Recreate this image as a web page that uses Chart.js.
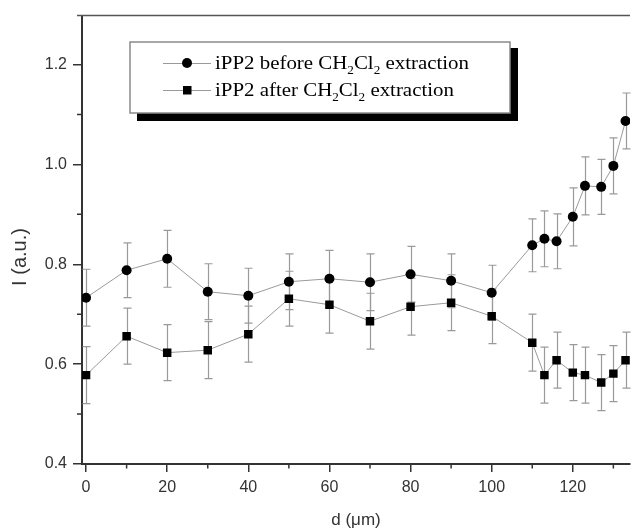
<!doctype html>
<html lang="en">
<head>
  <meta charset="utf-8">
  <title>iPP2 intensity profile</title>
  <script src="https://cdn.jsdelivr.net/npm/chart.js@4/dist/chart.umd.min.js"></script>
  <style>
    body { margin: 0; background: #fff; }
    .grafico { position: relative; width: 636px; height: 530px; }
  </style>
</head>
<body>
<div class="grafico">
  <canvas id="myChart"></canvas>
</div>

<script>
// distance from the surface (um)
var dist = [0, 10, 20, 30, 40, 50, 60, 70, 80, 90, 100, 110, 113, 116, 120, 123, 127, 130, 133];
var before = [0.733, 0.788, 0.811, 0.745, 0.737, 0.765, 0.771, 0.764, 0.780, 0.767, 0.743, 0.838, 0.851, 0.846, 0.895, 0.957, 0.955, 0.997, 1.087];
var beforeErr = [0.057, 0.055, 0.057, 0.056, 0.055, 0.056, 0.057, 0.057, 0.056, 0.054, 0.055, 0.053, 0.056, 0.055, 0.058, 0.058, 0.055, 0.056, 0.056];
var after = [0.578, 0.656, 0.623, 0.628, 0.660, 0.731, 0.719, 0.686, 0.715, 0.723, 0.696, 0.643, 0.578, 0.608, 0.583, 0.578, 0.563, 0.581, 0.608];
var afterErr = [0.057, 0.056, 0.056, 0.057, 0.056, 0.055, 0.057, 0.056, 0.057, 0.056, 0.055, 0.057, 0.056, 0.056, 0.056, 0.056, 0.056, 0.056, 0.056];

var xTicks = [0, 20, 40, 60, 80, 100, 120];
var xMinor = [10, 30, 50, 70, 90, 110, 130];
var yTicks = [0.4, 0.6, 0.8, 1.0, 1.2];
var yMinor = [0.5, 0.7, 0.9, 1.1];

// legend text, pieces marked sub are drawn as subscripts
var legendRows = [
  [["iPP2 before CH"], ["2", "sub"], ["Cl"], ["2", "sub"], [" extraction"]],
  [["iPP2 after CH"], ["2", "sub"], ["Cl"], ["2", "sub"], [" extraction"]]
];
var xTitle = "d (\u03bcm)";
var yTitle = "I (a.u.)";
</script>

<script>
const toPoints = (ys) => dist.map((d, i) => ({x: d, y: ys[i]}));
const errs = [beforeErr, afterErr];
const sans = '"Liberation Sans", Arial, sans-serif';
const serif = '"Liberation Serif", "Times New Roman", serif';

const rowWidth = (ctx, row) => {
  let w = 0;
  row.forEach(piece => {
    ctx.font = (piece[1] === 'sub' ? '12px ' : '19px ') + serif;
    w += ctx.measureText(piece[0]).width;
  });
  return w;
};

const decor = {
  id: 'decor',
  beforeDatasetsDraw(chart) {
    const ctx = chart.ctx, xs = chart.scales.x, ys = chart.scales.y;
    ctx.save();
    ctx.strokeStyle = '#9a9a9a';
    ctx.lineWidth = 1.2;
    chart.data.datasets.forEach((ds, k) => {
      ds.data.forEach((p, i) => {
        const px = Math.round(xs.getPixelForValue(p.x)) + 0.5;
        const top = ys.getPixelForValue(p.y + errs[k][i]);
        const bot = ys.getPixelForValue(p.y - errs[k][i]);
        ctx.beginPath();
        ctx.moveTo(px, top); ctx.lineTo(px, bot);
        ctx.moveTo(px - 4, top); ctx.lineTo(px + 4, top);
        ctx.moveTo(px - 4, bot); ctx.lineTo(px + 4, bot);
        ctx.stroke();
      });
    });
    ctx.restore();
  },
  afterDraw(chart) {
    const ctx = chart.ctx, a = chart.chartArea;
    const xs = chart.scales.x, ys = chart.scales.y;
    ctx.save();
    // top frame line
    ctx.strokeStyle = '#555';
    ctx.lineWidth = 1.5;
    ctx.beginPath();
    ctx.moveTo(a.left - 5, a.top); ctx.lineTo(a.right, a.top);
    ctx.stroke();

    // minor ticks
    ctx.strokeStyle = '#333';
    ctx.lineWidth = 1.5;
    ctx.beginPath();
    xMinor.forEach(v => {
      const px = xs.getPixelForValue(v);
      ctx.moveTo(px, a.bottom); ctx.lineTo(px, a.bottom + 4.5);
    });
    yMinor.forEach(v => {
      const py = ys.getPixelForValue(v);
      ctx.moveTo(a.left, py); ctx.lineTo(a.left - 5, py);
    });
    ctx.stroke();

    // legend box with shadow
    ctx.fillStyle = '#000';
    ctx.fillRect(137, 48, 381, 73);
    ctx.fillStyle = '#fff';
    ctx.fillRect(130, 42, 380, 71);
    ctx.strokeStyle = '#8a8a8a';
    ctx.lineWidth = 1.5;
    ctx.strokeRect(130, 42, 380, 71);

    // the original legend font is wider than Times, stretch to its width
    const sx = 254 / rowWidth(ctx, legendRows[0]);
    const rowY = [63, 90];
    legendRows.forEach((row, r) => {
      const cy = rowY[r];
      ctx.strokeStyle = '#999';
      ctx.lineWidth = 1;
      ctx.beginPath();
      ctx.moveTo(163, cy + 0.5); ctx.lineTo(211, cy + 0.5);
      ctx.stroke();
      ctx.fillStyle = '#000';
      if (r === 0) {
        ctx.beginPath(); ctx.arc(187, cy, 5, 0, Math.PI * 2); ctx.fill();
      } else {
        ctx.fillRect(183, cy - 4, 8.5, 8.5);
      }
      ctx.save();
      ctx.translate(215, cy + 6);
      ctx.scale(sx, 1);
      ctx.textBaseline = 'alphabetic';
      ctx.textAlign = 'left';
      let tx = 0;
      row.forEach(piece => {
        const sub = piece[1] === 'sub';
        ctx.font = (sub ? '12px ' : '19px ') + serif;
        ctx.fillText(piece[0], tx, sub ? 5 : 0);
        tx += ctx.measureText(piece[0]).width;
      });
      ctx.restore();
    });

    // axis titles
    ctx.fillStyle = '#333';
    ctx.textAlign = 'center';
    ctx.textBaseline = 'alphabetic';
    ctx.font = '17px ' + sans;
    ctx.fillText(xTitle, 356, 525);
    ctx.translate(26, 257);
    ctx.rotate(-Math.PI / 2);
    ctx.font = '20px ' + sans;
    ctx.fillText(yTitle, 0, 0);
    ctx.restore();
  }
};

var ctx = document.getElementById('myChart').getContext('2d');
var myChart = new Chart(ctx, {
  type: 'line',
  data: {
    datasets: [{
      label: 'iPP2 before CH2Cl2 extraction',
      data: toPoints(before),
      borderColor: '#9a9a9a',
      borderWidth: 1,
      pointStyle: 'circle',
      pointRadius: 5,
      pointBorderWidth: 0,
      pointBackgroundColor: '#000',
    }, {
      label: 'iPP2 after CH2Cl2 extraction',
      data: toPoints(after),
      borderColor: '#9a9a9a',
      borderWidth: 1,
      pointStyle: 'rect',
      pointRadius: 6,
      pointBorderWidth: 0,
      pointBackgroundColor: '#000',
    }]
  },
  plugins: [decor],
  options: {
    responsive: true,
    maintainAspectRatio: false,
    animation: false,
    layout: {padding: {top: 15, right: 0, bottom: 0, left: 0}},
    scales: {
      x: {
        type: 'linear',
        min: -1,
        max: 134.1,
        afterFit: (s) => { s.height = 66; },
        afterBuildTicks: (s) => { s.ticks = xTicks.map(v => ({value: v})); },
        border: {display: true, color: '#333', width: 2},
        grid: {drawOnChartArea: false, drawTicks: true, tickLength: 8, tickColor: '#333', lineWidth: 1.5},
        ticks: {padding: 6, color: '#333', font: {family: sans, size: 16}, maxRotation: 0}
      },
      y: {
        min: 0.4,
        max: 1.298,
        afterFit: (s) => { s.width = 82; },
        afterBuildTicks: (s) => { s.ticks = yTicks.map(v => ({value: v})); },
        border: {display: true, color: '#333', width: 2},
        grid: {drawOnChartArea: false, drawTicks: true, tickLength: 9, tickColor: '#333', lineWidth: 1.5},
        ticks: {padding: 6, color: '#333', font: {family: sans, size: 16}, callback: (v) => v.toFixed(1)}
      }
    },
    plugins: {
      legend: {display: false},
      tooltip: {enabled: false}
    }
  }
});
</script>
</body>
</html>
